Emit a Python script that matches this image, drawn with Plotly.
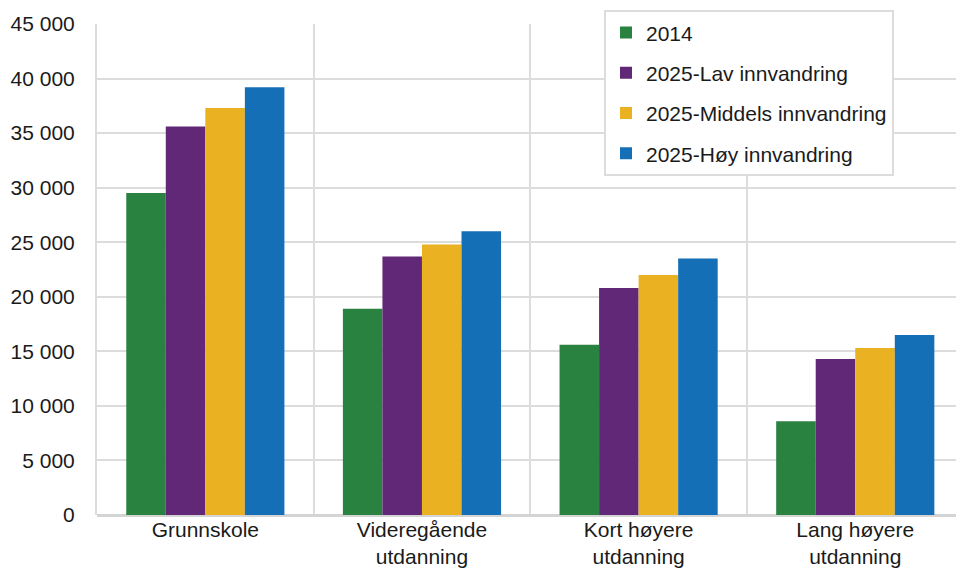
import plotly.graph_objects as go

categories = ["Grunnskole", "Videregående<br>utdanning", "Kort høyere<br>utdanning", "Lang høyere<br>utdanning"]
series_names = ["2014", "2025-Lav innvandring", "2025-Middels innvandring", "2025-Høy innvandring"]
v2014 = [29500, 18900, 15600, 8600]
v_lav = [35600, 23700, 20800, 14300]
v_middels = [37300, 24800, 22000, 15300]
v_hoy = [39200, 26000, 23500, 16500]
colors = ["#2a8241", "#612877", "#eab223", "#156fb7"]
y_ticks = [0, 5000, 10000, 15000, 20000, 25000, 30000, 35000, 40000, 45000]

fig = go.Figure()
for i, (name, vals) in enumerate(zip(series_names, [v2014, v_lav, v_middels, v_hoy])):
    fig.add_trace(go.Bar(
        x=categories, y=vals, name=name, legendgroup=str(i),
        marker=dict(color=colors[i], line=dict(width=0)),
    ))

font_family = "Liberation Sans, Arial, sans-serif"
fig.update_layout(
    width=956, height=570,
    margin=dict(l=97, r=0, t=24, b=55, autoexpand=False),
    paper_bgcolor="white", plot_bgcolor="white",
    barmode="group", bargap=0.27, bargroupgap=0,
    separators=", ",
    font=dict(family=font_family, size=21, color="#1a1a1a"),
    showlegend=True,
    legend=dict(
        x=(604 - 97) / 859, y=1.028, xanchor="left", yanchor="top",
        bgcolor="white", bordercolor="#dcdcdc", borderwidth=2,
        font=dict(size=21, color="#1a1a1a"),
        traceorder="grouped", tracegroupgap=10,
        itemwidth=30,
    ),
    xaxis=dict(
        type="category", range=[-0.5, 3.465], automargin=False,
        tickson="boundaries", showgrid=True, gridcolor="#dcdcdc", gridwidth=2,
        ticks="", showline=False, zeroline=False,
        tickfont=dict(size=21),
    ),
    yaxis=dict(
        range=[0, 45000], tickvals=y_ticks, tickformat=",d", automargin=False,
        showgrid=True, gridcolor="#dcdcdc", gridwidth=2,
        zeroline=True, zerolinecolor="#d4d4d4", zerolinewidth=3,
        showline=True, linecolor="#dcdcdc", linewidth=2,
        ticks="", ticklabelstandoff=16,
        tickfont=dict(size=21),
    ),
)

fig.write_html(
    "out.html",
    config={"displayModeBar": False},
    post_script="document.body.style.margin='0';document.body.style.overflow='hidden';",
)
